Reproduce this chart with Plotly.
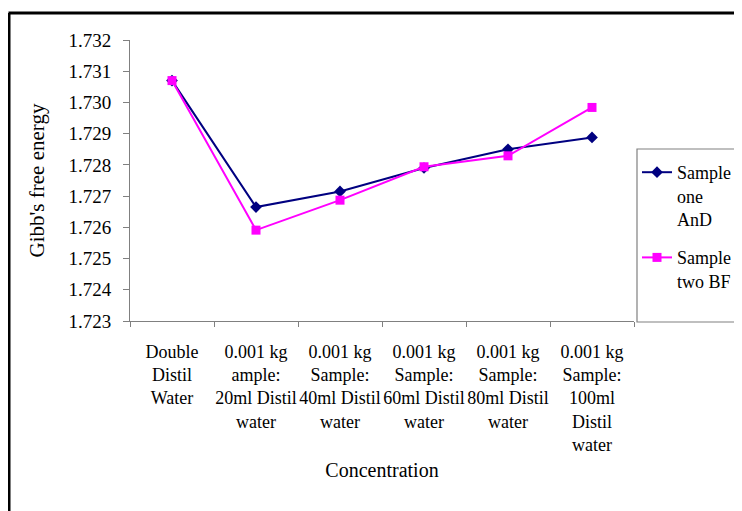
import plotly.graph_objects as go

categories = [
    "Double<br>Distil<br>Water",
    "0.001 kg<br>ample:<br>20ml Distil<br>water",
    "0.001 kg<br>Sample:<br>40ml Distil<br>water",
    "0.001 kg<br>Sample:<br>60ml Distil<br>water",
    "0.001 kg<br>Sample:<br>80ml Distil<br>water",
    "0.001 kg<br>Sample:<br>100ml<br>Distil<br>water",
]
sample_one = [1.7307, 1.72665, 1.72715, 1.7279, 1.7285, 1.72888]
sample_two = [1.7307, 1.72591, 1.72687, 1.72794, 1.72829, 1.72984]
y_ticks = [1.723, 1.724, 1.725, 1.726, 1.727, 1.728, 1.729, 1.730, 1.731, 1.732]

FONT = "Liberation Serif"

fig = go.Figure()
fig.add_trace(go.Scatter(
    x=categories, y=sample_one, mode="lines+markers",
    name="Sample<br>one<br>AnD", legendgroup="a",
    line=dict(color="#000080", width=2),
    marker=dict(symbol="diamond", size=9, color="#000080"),
))
fig.add_trace(go.Scatter(
    x=categories, y=sample_two, mode="lines+markers",
    name="Sample<br>two BF", legendgroup="b",
    line=dict(color="#FF00FF", width=2),
    marker=dict(symbol="square", size=9, color="#FF00FF"),
))

L, R, T, B = 122, 116, 32, 198
PW, PH = 742 - L - R, 511 - T - B

def px(xf):
    return (xf - L) / PW

def py(yf):
    return (T + PH - yf) / PH

fig.update_layout(
    width=742, height=511,
    margin=dict(l=L, r=R, t=T, b=B, autoexpand=False),
    paper_bgcolor="white", plot_bgcolor="white",
    font=dict(family=FONT, size=18, color="black"),
    showlegend=True,
    legend=dict(
        x=px(629), y=py(146), xanchor="left", yanchor="top",
        borderwidth=0, bgcolor="rgba(0,0,0,0)",
        font=dict(family=FONT, size=18, color="black"),
        tracegroupgap=12, itemwidth=30, valign="top",
    ),
    xaxis=dict(
        type="category", range=[-0.5, 5.5],
        showline=True, linecolor="#808080", linewidth=1,
        ticks="outside", ticklen=5, tickcolor="#808080",
        tickson="boundaries", showgrid=False, zeroline=False,
        tickangle=0, ticklabelstandoff=14,
        tickfont=dict(family=FONT, size=18, color="black"),
        title=dict(text="Concentration", font=dict(family=FONT, size=20, color="black"), standoff=8),
    ),
    yaxis=dict(
        range=[1.723, 1.732], tickvals=y_ticks,
        tickformat=".3f",
        showline=True, linecolor="#808080", linewidth=1,
        ticks="outside", ticklen=6, tickcolor="#808080",
        showgrid=False, zeroline=False, ticklabelstandoff=8,
        tickfont=dict(family=FONT, size=19, color="black"),
        title=dict(text="Gibb's free energy", font=dict(family=FONT, size=21, color="black"), standoff=18),
    ),
)

# legend box
fig.add_shape(type="rect", xref="paper", yref="paper",
              x0=px(629), x1=px(728), y0=py(314), y1=py(141),
              line=dict(color="#808080", width=1.2), fillcolor="rgba(0,0,0,0)")

# outer black frame (top and left edges visible in the reference)
fig.add_shape(type="line", xref="paper", yref="paper", x0=px(0.5), x1=px(745), y0=py(5), y1=py(5),
              line=dict(color="black", width=3))
fig.add_shape(type="line", xref="paper", yref="paper", x0=px(1), x1=px(1), y0=py(5), y1=py(515),
              line=dict(color="black", width=3))

fig.write_html("out.html")
